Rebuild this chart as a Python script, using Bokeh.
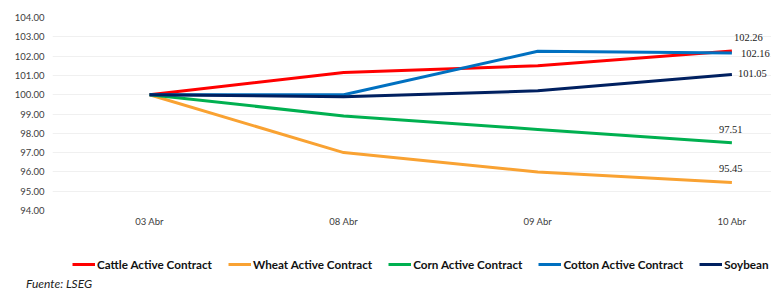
from bokeh.plotting import figure
from bokeh.layouts import column
from bokeh.models import (Range1d, FixedTicker, NumeralTickFormatter, Legend, LegendItem,
                          LabelSet, ColumnDataSource, Div)
from bokeh.embed import file_html
from bokeh.resources import INLINE

dates = ["03 Abr", "08 Abr", "09 Abr", "10 Abr"]
cattle = [100.0, 101.15, 101.5, 102.26]
wheat = [100.0, 97.0, 96.0, 95.45]
corn = [100.0, 98.9, 98.2, 97.51]
cotton = [100.0, 100.0, 102.25, 102.16]
soybean = [100.0, 99.9, 100.2, 101.05]

series_names = ["Cattle Active Contract", "Wheat Active Contract", "Corn Active Contract",
                "Cotton Active Contract", "Soybean"]
series_values = [cattle, wheat, corn, cotton, soybean]
colors = ["#FF0000", "#F9A232", "#00B050", "#0070C0", "#002060"]
y_ticks = [94, 95, 96, 97, 98, 99, 100, 101, 102, 103, 104]
source_note = "Fuente: LSEG"

FONT = "Lato"
xs = list(range(len(dates)))

p = figure(width=771, height=240, output_backend="svg", toolbar_location=None,
           x_range=Range1d(-0.5, 3.204), y_range=Range1d(94, 104),
           min_border_left=52, min_border_right=0, min_border_top=17, min_border_bottom=30)
p.outline_line_color = None
p.background_fill_color = "white"
p.border_fill_color = "white"

p.xaxis.ticker = FixedTicker(ticks=xs)
p.xaxis.major_label_overrides = {i: d for i, d in enumerate(dates)}
p.yaxis.ticker = FixedTicker(ticks=y_ticks)
p.yaxis.formatter = NumeralTickFormatter(format="0.00")
for ax in (p.xaxis[0], p.yaxis[0]):
    ax.axis_line_color = None
    ax.major_tick_line_color = None
    ax.minor_tick_line_color = None
    ax.major_tick_out = 0
    ax.minor_tick_out = 0
    ax.major_label_text_font = FONT
    ax.major_label_text_font_size = "9.5px"
    ax.major_label_text_color = "#404040"
p.yaxis.major_label_standoff = 8
p.xaxis.major_label_standoff = 5
p.xgrid.grid_line_color = None
p.ygrid.grid_line_color = "#F0F0F0"
p.ygrid.ticker = FixedTicker(ticks=y_ticks)

for vals, c in zip(series_values, colors):
    p.line(xs, vals, line_color=c, line_width=3)

end_vals = [v[-1] for v in series_values]
lab_src = ColumnDataSource(dict(
    x=[3] * 5,
    y=end_vals,
    text=["%.2f" % v for v in end_vals],
    xo=[2, -13, -13, 9, 6],
    yo=[13.5, 14.5, 13.5, 0, 1],
))
labels = LabelSet(x="x", y="y", text="text", source=lab_src, x_offset="xo", y_offset="yo",
                  text_font=FONT, text_font_size="10.5px", text_color="#222222",
                  text_baseline="middle")
p.add_layout(labels)

# legend strip (its frame is aligned with the main frame, left = 52)
p2 = figure(width=771, height=36, output_backend="svg", toolbar_location=None,
            x_range=Range1d(0, 1), y_range=Range1d(0, 1),
            x_axis_location=None, y_axis_location=None,
            min_border_left=0, min_border_right=0, min_border_top=0, min_border_bottom=0)
p2.outline_line_color = None
p2.grid.visible = False
items = []
for name, vals, c in zip(series_names, series_values, colors):
    r = p2.line(xs, vals, line_color=c, line_width=3)  # outside p2's view; only feeds the legend
    items.append(LegendItem(label=name, renderers=[r]))
legend = Legend(items=items, orientation="horizontal", location=(20, 5),
                glyph_width=23, glyph_height=12, label_standoff=2, spacing=16,
                label_text_font=FONT, label_text_font_style="bold", label_text_font_size="11.7px",
                label_text_color="#111111", border_line_color=None, background_fill_alpha=0,
                padding=0, margin=0)
legend.label_height = 14
p2.add_layout(legend, "center")

foot = Div(text=source_note, width=771, height=16,
           styles={"font-family": FONT, "font-style": "italic", "font-size": "12px",
                   "color": "#222222", "line-height": "16px", "padding-left": "26px",
                   "margin": "0", "white-space": "nowrap"})

layout = column(p, p2, foot, spacing=0)
open("out.html", "w").write(file_html(layout, INLINE))
